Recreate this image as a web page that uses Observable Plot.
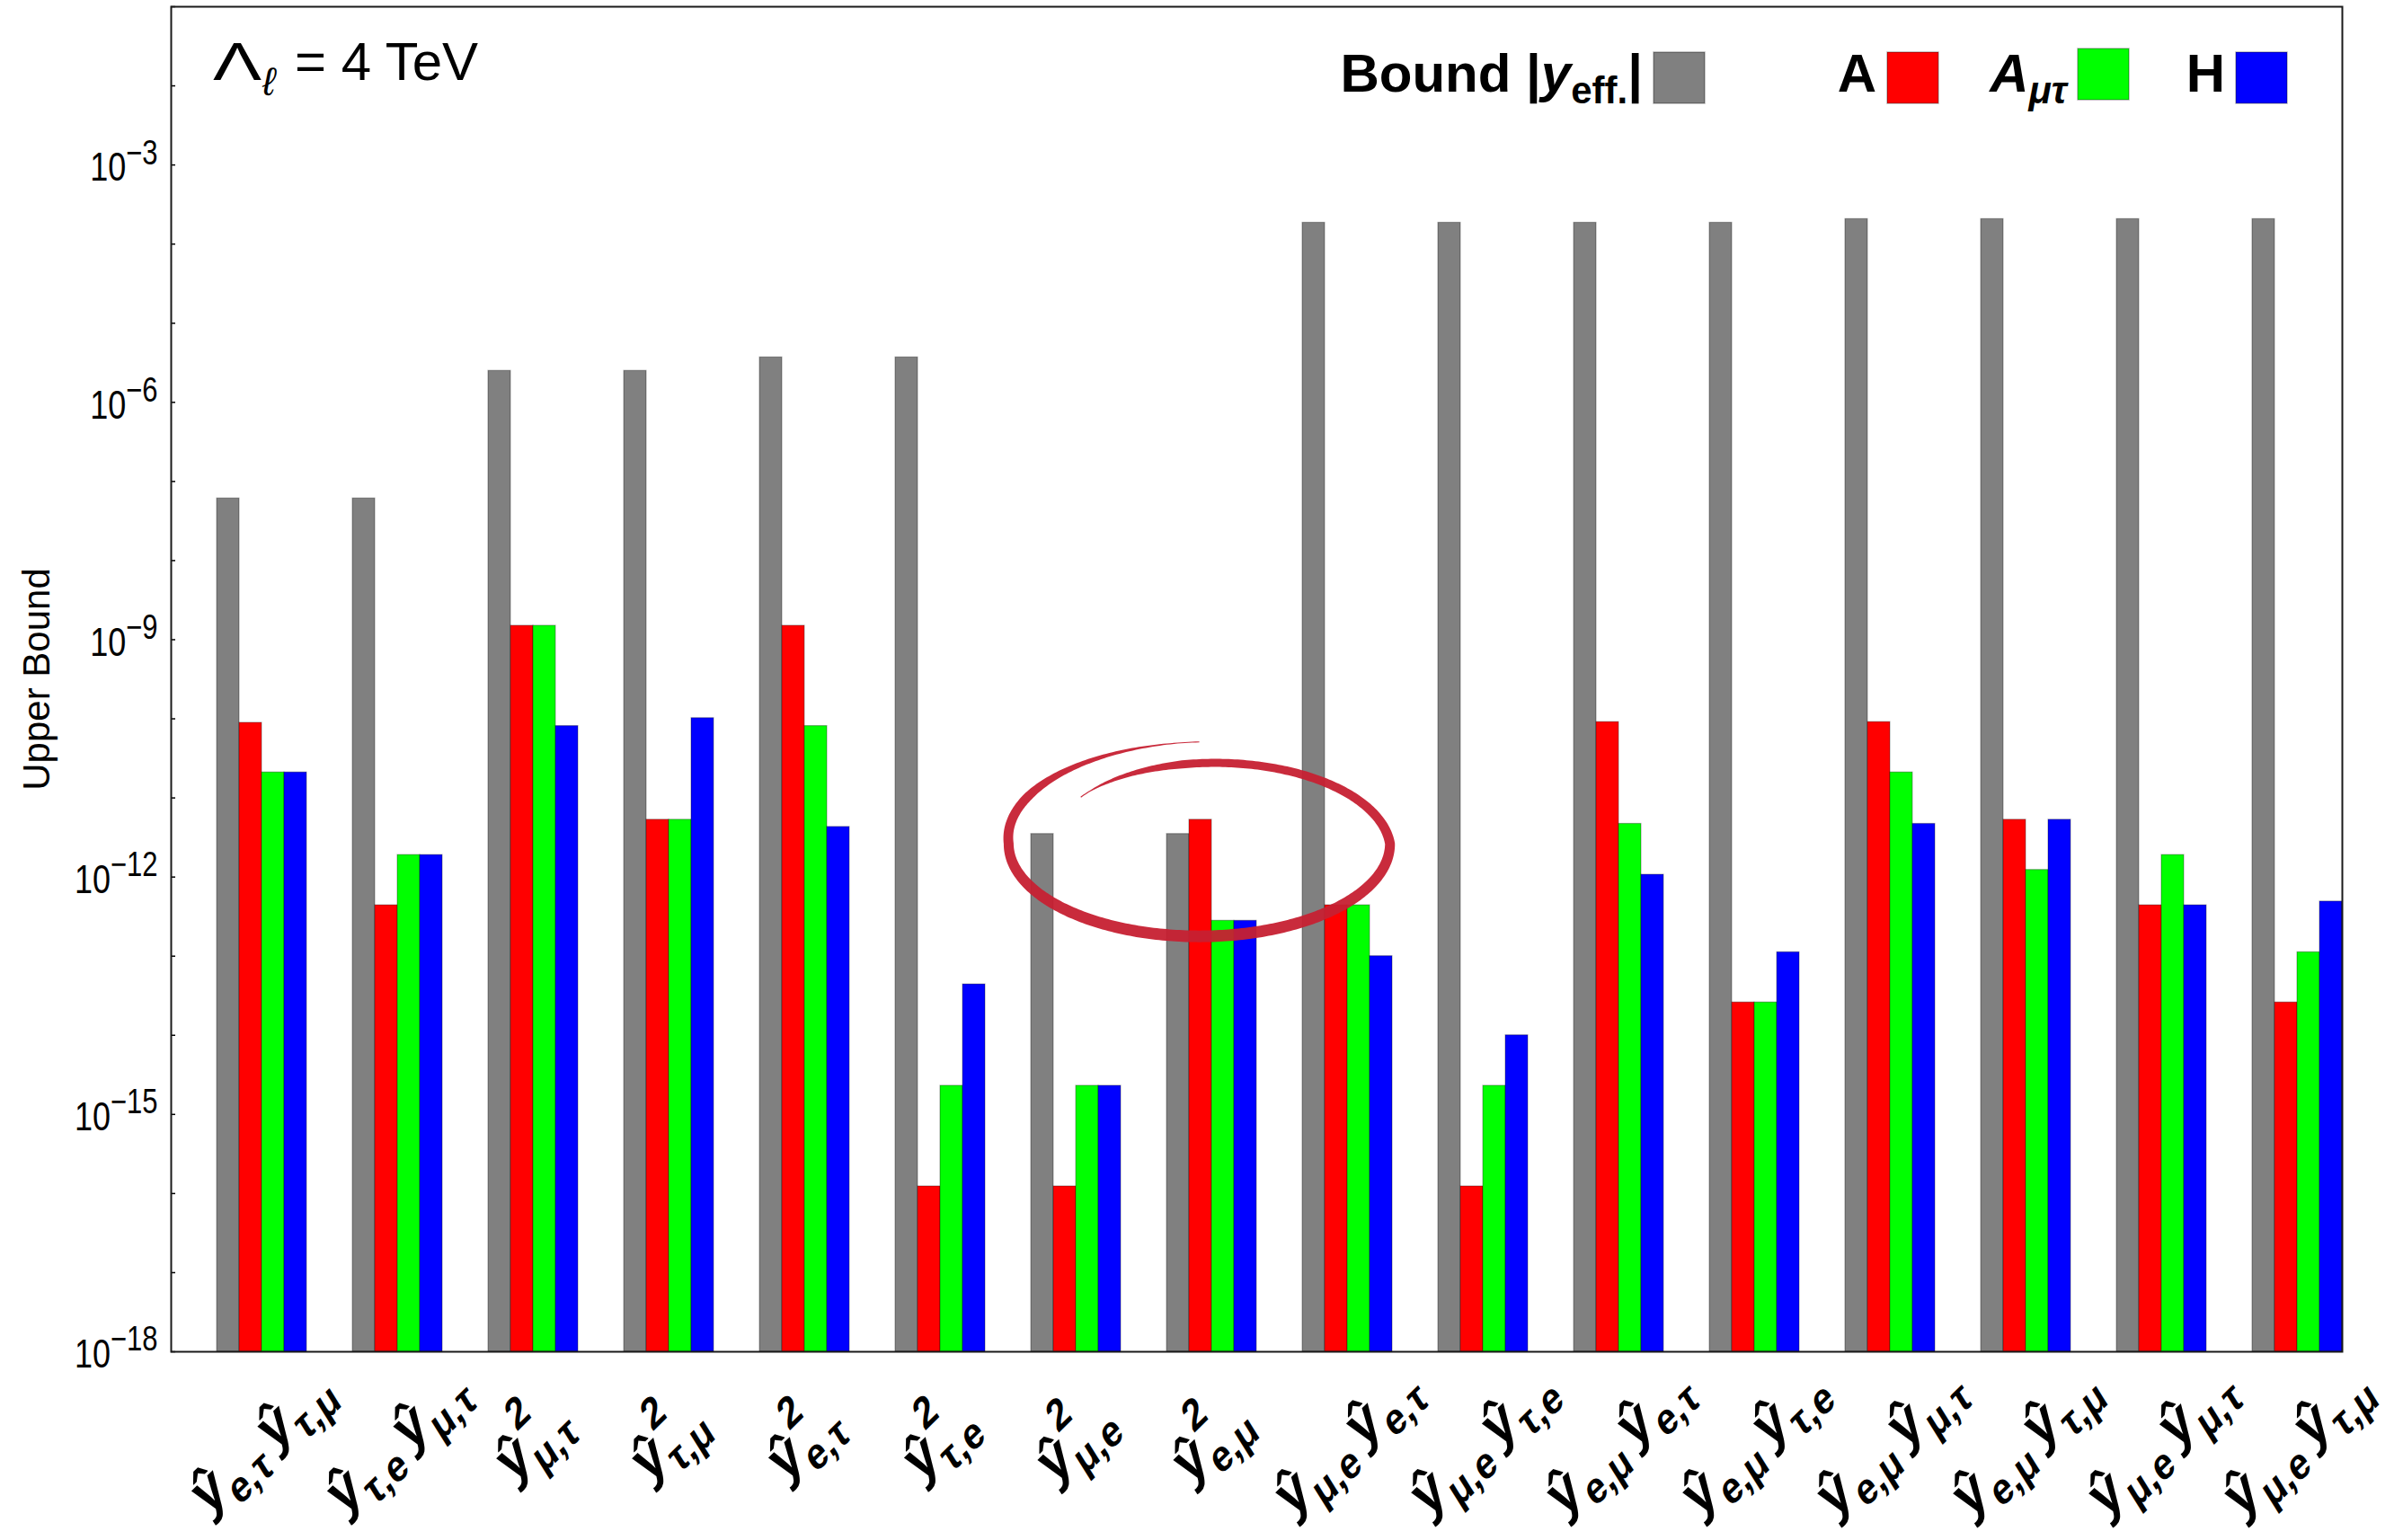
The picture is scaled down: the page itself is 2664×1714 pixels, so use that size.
<!DOCTYPE html>
<html><head><meta charset="utf-8">
<script src="https://cdn.jsdelivr.net/npm/d3@7"></script>
<script src="https://cdn.jsdelivr.net/npm/@observablehq/plot@0.6"></script>
<style>html,body{margin:0;padding:0;background:#fff;} svg{display:block}</style>
</head><body><div id="chart"></div>
<script>
// ---------- data ----------
const categories = [
  "ŷ_{e,τ}ŷ_{τ,μ}", "ŷ_{τ,e}ŷ_{μ,τ}", "ŷ^{2}_{μ,τ}", "ŷ^{2}_{τ,μ}",
  "ŷ^{2}_{e,τ}", "ŷ^{2}_{τ,e}", "ŷ^{2}_{μ,e}", "ŷ^{2}_{e,μ}",
  "ŷ_{μ,e}ŷ_{e,τ}", "ŷ_{μ,e}ŷ_{τ,e}", "ŷ_{e,μ}ŷ_{e,τ}", "ŷ_{e,μ}ŷ_{τ,e}",
  "ŷ_{e,μ}ŷ_{μ,τ}", "ŷ_{e,μ}ŷ_{τ,μ}", "ŷ_{μ,e}ŷ_{μ,τ}", "ŷ_{μ,e}ŷ_{τ,μ}"
];
const seriesNames = ["Bound |y_eff.|", "A", "A_μτ", "H"];
const seriesColors = ["#808080", "#ff0000", "#00ff00", "#0000ff"];
const boundValues = [6.1e-8, 6.1e-8, 2.5e-6, 2.5e-6, 3.7e-6, 3.7e-6, 3.5e-12, 3.5e-12,
  1.86e-4, 1.86e-4, 1.86e-4, 1.86e-4, 2.07e-4, 2.07e-4, 2.07e-4, 2.07e-4];
const aValues = [8.9e-11, 4.4e-13, 1.5e-9, 5.3e-12, 1.5e-9, 1.23e-16, 1.23e-16, 5.3e-12,
  4.4e-13, 1.23e-16, 9.1e-11, 2.6e-14, 9.1e-11, 5.3e-12, 4.4e-13, 2.6e-14];
const aMuTauValues = [2.1e-11, 1.9e-12, 1.5e-9, 5.3e-12, 8.1e-11, 2.3e-15, 2.3e-15, 2.8e-13,
  4.4e-13, 2.3e-15, 4.7e-12, 2.6e-14, 2.1e-11, 1.23e-12, 1.9e-12, 1.12e-13];
const hValues = [2.1e-11, 1.9e-12, 8.1e-11, 1.02e-10, 4.3e-12, 4.4e-14, 2.3e-15, 2.8e-13,
  1.0e-13, 1.0e-14, 1.07e-12, 1.12e-13, 4.7e-12, 5.3e-12, 4.4e-13, 4.9e-13];
const majorTicks = [1e-18, 1e-15, 1e-12, 1e-9, 1e-6, 1e-3];
const majorTickLabels = ["10^{−18}", "10^{−15}", "10^{−12}", "10^{−9}", "10^{−6}", "10^{−3}"];
const minorTicks = [1e-18, 1e-17, 1e-16, 1e-15, 1e-14, 1e-13, 1e-12, 1e-11, 1e-10,
  1e-9, 1e-8, 1e-7, 1e-6, 1e-5, 1e-4, 1e-3, 1e-2, 1e-1];
const yDomain = [1e-18, 1e-1];
const titleText = {main: "Λ", sub: "ℓ", rest: "= 4 TeV"};
const yLabel = "Upper Bound";
// annotation (hand-drawn loop) anchored on a category and a value
const annotationCategory = categories[7];
const annotationValue = 2.6e-12;

// ---------- table ----------
const seriesValues = [boundValues, aValues, aMuTauValues, hValues];
const rows = categories.flatMap((c, i) => seriesNames.map((s, j) => ({cat: c, series: s, value: seriesValues[j][i]})));

const FONT = "'Liberation Sans', Arial, Helvetica, sans-serif";
const STRETCH = 1.25; // the reference's lettering is drawn taller than wide

const plot = Plot.plot({
  width: 2664, height: 1714,
  marginLeft: 185, marginRight: 53, marginTop: 7, marginBottom: 210,
  style: {fontFamily: FONT, background: "#fff", color: "#000", overflow: "visible"},
  fx: {domain: categories, padding: 0},
  x: {domain: seriesNames, paddingInner: 0, paddingOuter: 0.96, align: 1, axis: null},
  y: {type: "log", domain: yDomain},
  color: {domain: seriesNames, range: seriesColors},
  marks: [
    Plot.barY(rows, {fx: "cat", x: "series", y1: () => yDomain[0], y2: "value", fill: "series",
      stroke: "#000", strokeOpacity: 0.3, strokeWidth: 1.2}),
    Plot.axisY({ticks: minorTicks, tickSize: -5, tickFormat: () => "", label: null, strokeWidth: 1.5}),
    Plot.axisY({ticks: majorTicks, tickSize: 0, tickPadding: 15, fontSize: 36, dy: 6,
      tickFormat: d => majorTickLabels[majorTicks.indexOf(d)],
      label: yLabel, labelAnchor: "center", labelOffset: 165, labelArrow: "none"}),
    Plot.axisFx({anchor: "bottom", tickSize: 0, tickPadding: 0, tickRotate: -38, textAnchor: "middle",
      fontSize: 56, fontWeight: "bold", label: null, dx: 36, dy: 115, tickFormat: d => d}),
    Plot.frame({facet: "super", stroke: "#1a1a1a", strokeWidth: 2})
  ]
});
document.getElementById("chart").appendChild(plot);

const NS = "http://www.w3.org/2000/svg";
function el(tag, attrs, parent) {
  const e = document.createElementNS(NS, tag);
  for (const k in attrs) e.setAttribute(k, attrs[k]);
  if (parent) parent.appendChild(e);
  return e;
}
function parseMarkup(s) {
  const tokens = [];
  let i = 0;
  const isOp = j => (s[j] === "_" || s[j] === "^") && s[j + 1] === "{";
  while (i < s.length) {
    if (isOp(i)) {
      const end = s.indexOf("}", i + 2);
      tokens.push({type: s[i] === "_" ? "sub" : "sup", text: s.slice(i + 2, end)});
      i = end + 1;
    } else {
      let j = i;
      while (j < s.length && !isOp(j)) j++;
      tokens.push({type: "base", text: s.slice(i, j)});
      i = j;
    }
  }
  return tokens;
}
function renderMath(textEl, markup, o) {
  const tokens = parseMarkup(markup);
  textEl.textContent = "";
  let shift = 0, prevSup = null;
  tokens.forEach((t, k) => {
    const ts = el("tspan", {}, textEl);
    ts.textContent = t.text;
    const target = t.type === "base" ? 0 : t.type === "sub" ? o.drop : -o.rise;
    ts.setAttribute("dy", target - shift);
    shift = target;
    ts.setAttribute("font-size", t.type === "base" ? o.main : t.type === "sub" ? o.small : (o.sup || o.small));
    if (t.type === "base" && k > 0 && o.gap) ts.setAttribute("dx", o.gap);
    if (t.type === "sub" && k > 0 && tokens[k - 1].type === "base" && o.subGap) ts.setAttribute("dx", o.subGap);
    if (t.type === "sup" && o.supGap) ts.setAttribute("dx", o.supGap);
    if (t.type === "sub" && prevSup) ts.setAttribute("dx", -prevSup.getComputedTextLength());
    prevSup = t.type === "sup" ? ts : null;
  });
}
function stretch(t) {
  const tr = t.getAttribute("transform") || "";
  if (tr.includes("rotate(")) t.setAttribute("transform", tr.replace("rotate(", `scale(1,${STRETCH}) rotate(`));
  else t.setAttribute("transform", `${tr} scale(1,${STRETCH})`);
}

// y tick labels with superscripts
plot.querySelectorAll('g[aria-label="y-axis tick label"] text').forEach(t => {
  const s = t.textContent;
  if (!s) return;
  t.setAttribute("y", "0.26em");
  renderMath(t, s, {main: 36, small: 31, rise: 15, drop: 0});
  stretch(t);
});
// y label
plot.querySelectorAll('g[aria-label="y-axis label"] text').forEach(t => {
  t.setAttribute("font-size", 42);
});
// x (category) labels
plot.querySelectorAll('g[aria-label="fx-axis tick label"] text').forEach(t => {
  const s = t.textContent;
  t.removeAttribute("y");
  t.setAttribute("font-weight", "bold");
  t.setAttribute("text-anchor", "middle");
  renderMath(t, s, {main: 56, small: 40, sup: 40, rise: 34, drop: 14, gap: 8, subGap: 3, supGap: 2});
  stretch(t);
});

// ---------- title & legend ----------
const titleG = el("g", {"font-family": FONT, fill: "#000", "text-anchor": "start"}, plot);
el("text", {transform: "translate(237,88.5) scale(1.35,1)", "font-size": 60}, titleG).textContent = titleText.main;
el("text", {x: 292, y: 106, "font-size": 44, "font-style": "italic"}, titleG).textContent = titleText.sub;
el("text", {x: 328, y: 88.5, "font-size": 60}, titleG).textContent = titleText.rest;

const legendMarkup = [
  [{t: "Bound |"}, {t: "y", i: true}, {t: "eff.", sub: true}, {t: "|"}],
  [{t: "A"}],
  [{t: "A", i: true}, {t: "μτ", sub: true, i: true}],
  [{t: "H"}]
];
const swatchX = [1840, 2100, 2312, 2488];
const swatchY = [58, 58, 54, 58];
const lg = el("g", {"font-family": FONT, "font-weight": "bold"}, plot);
seriesNames.forEach((name, j) => {
  const tx = el("text", {x: swatchX[j] - 12, y: 102, "text-anchor": "end", "font-size": 60}, lg);
  let shift = 0;
  legendMarkup[j].forEach(p => {
    const ts = el("tspan", {}, tx);
    ts.textContent = p.t;
    const target = p.sub ? 13 : 0;
    ts.setAttribute("dy", target - shift); shift = target;
    if (p.sub) ts.setAttribute("font-size", 42);
    if (p.i) ts.setAttribute("font-style", "italic");
  });
  el("rect", {x: swatchX[j], y: swatchY[j], width: 57, height: 57, fill: seriesColors[j],
    stroke: "#000", "stroke-opacity": 0.3, "stroke-width": 1.5}, lg);
});

// ---------- hand-drawn loop annotation ----------
(function () {
  const fx = plot.scale("fx"), ys = plot.scale("y");
  const bw = fx.bandwidth;
  const cx = fx.apply(annotationCategory) + 0.58 * bw;
  const cy = ys.apply(annotationValue);
  const rx = 1.405 * bw;
  const ry = ys.apply(annotationValue / Math.pow(10, 1.17)) - cy;
  const rKnots = [[219, 0.80], [270, 0.87], [360, 1.0], [450, 1.0], [540, 1.0], [630, 1.1]];
  const rAt = a => {
    for (let k = 1; k < rKnots.length; k++) {
      if (a <= rKnots[k][0]) {
        const [a0, r0] = rKnots[k - 1], [a1, r1] = rKnots[k];
        return r0 + (r1 - r0) * (a - a0) / (a1 - a0);
      }
    }
    return rKnots[rKnots.length - 1][1];
  };
  const a0 = 219, a1 = 630;
  const pts = [];
  for (let a = a0; a <= a1; a += 1) {
    const r = rAt(a), th = a * Math.PI / 180;
    pts.push([cx + rx * r * Math.cos(th), cy + ry * r * Math.sin(th), a]);
  }
  const L = [], R = [];
  for (let k = 0; k < pts.length; k++) {
    const p = pts[k], q = pts[Math.min(k + 1, pts.length - 1)], m = pts[Math.max(k - 1, 0)];
    let tx = q[0] - m[0], ty = q[1] - m[1];
    const n = Math.hypot(tx, ty) || 1; tx /= n; ty /= n;
    const a = p[2];
    let w = 11 + 2 * Math.sin(a * Math.PI / 180);
    const taperS = Math.min(1, (a - a0) / 45), taperE = Math.min(1, (a1 - a) / 60);
    w *= Math.max(0.12, Math.min(taperS, taperE));
    L.push([p[0] - ty * w / 2, p[1] + tx * w / 2]);
    R.push([p[0] + ty * w / 2, p[1] - tx * w / 2]);
  }
  const d = "M" + L.map(p => p.join(",")).join("L") + "L" + R.reverse().map(p => p.join(",")).join("L") + "Z";
  el("path", {d, fill: "#c62032", "fill-opacity": 0.95}, plot);
})();
</script>
</body></html>
